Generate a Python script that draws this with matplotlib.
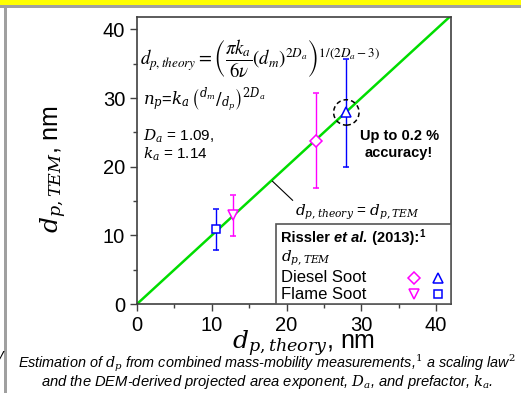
import numpy as np
import matplotlib
matplotlib.use('Agg')
import matplotlib.pyplot as plt
from matplotlib.patches import Rectangle, Ellipse

plt.rcParams['font.family'] = ['Liberation Sans', 'DejaVu Sans']
plt.rcParams['mathtext.fontset'] = 'dejavuserif'

# data (nm)
diesel_theory = [23.9, 28.0]
diesel_tem = [23.8, 27.9]
diesel_err_lo = [6.9, 8.0]
diesel_err_hi = [7.0, 7.8]
flame_theory = [12.9, 10.6]
flame_tem = [12.9, 10.9]
flame_err_lo = [3.0, 3.0]
flame_err_hi = [3.0, 3.0]
marker_colors = ['#ff00ff', '#0000ff']
diesel_markers = ['D', '^']
flame_markers = ['v', 's']
line_xy = [0, 42]
ticks = [0, 10, 20, 30, 40]

GREEN = '#00dd00'
SPINE = '#404040'

fig = plt.figure(figsize=(5.21, 3.93), dpi=100)

# slide decorations
fig.patches.append(Rectangle((0, 1 - 5 / 393), 1, 5 / 393, transform=fig.transFigure,
                             facecolor='#ffff00', edgecolor='none'))
fig.patches.append(Rectangle((0, 1 - 8 / 393), 1, 3 / 393, transform=fig.transFigure,
                             facecolor='#a0a0a0', edgecolor='none'))
fig.patches.append(Rectangle((4 / 521, 0), 3 / 521, 1 - 8 / 393, transform=fig.transFigure,
                             facecolor='#a0a0a0', edgecolor='none'))

ax = fig.add_axes([137 / 521, 1 - 304 / 393, 314 / 521, 287 / 393])
ax.set_xlim(0, 42)
ax.set_ylim(0, 41.8)

ax.plot(line_xy, line_xy, color=GREEN, lw=1.8, zorder=2)

for i in range(2):
    ax.errorbar(diesel_theory[i], diesel_tem[i],
                yerr=[[diesel_err_lo[i]], [diesel_err_hi[i]]],
                fmt=diesel_markers[i], mfc='white', mec=marker_colors[i],
                ecolor=marker_colors[i], ms=6 if i == 0 else 7, mew=1.1,
                elinewidth=1, capsize=2.5, capthick=1, zorder=3)
    ax.errorbar(flame_theory[i], flame_tem[i],
                yerr=[[flame_err_lo[i]], [flame_err_hi[i]]],
                fmt=flame_markers[i], mfc='white', mec=marker_colors[i],
                ecolor=marker_colors[i], ms=7 if i == 0 else 5.5, mew=1.1,
                elinewidth=1, capsize=2.5, capthick=1, zorder=3)

ax.add_patch(Ellipse((diesel_theory[1], diesel_tem[1]), 3.4, 3.7, fill=False,
                     ls=(0, (3, 2)), lw=1.1, edgecolor='black', zorder=4))

ax.set_xticks(ticks)
ax.set_yticks(ticks)
ax.set_xticks([5, 15, 25, 35], minor=True)
ax.set_yticks([5, 15, 25, 35], minor=True)
ax.tick_params(which='both', direction='out', colors=SPINE, labelcolor='black',
               labelsize=14.5, top=False, right=False)
ax.tick_params(which='major', length=5, width=1)
ax.tick_params(which='minor', length=3, width=1)
for s in ax.spines.values():
    s.set_color(SPINE)
    s.set_linewidth(1.2)

ax.set_xlabel(r'$d_{p,theory}$, nm', fontsize=18)
ax.xaxis.set_label_coords(0.53, -0.085)
ax.set_ylabel(r'$d_{p,TEM}$, nm', fontsize=18)
ax.yaxis.set_label_coords(-0.215, 0.47)

# equations
ax.text(0.01, 0.855,
        r'$d_{p,theory} = \left(\dfrac{\pi k_a}{6\nu}\left(d_m\right)^{2D_a}\right)^{1/\left(2D_a-3\right)}$',
        transform=ax.transAxes, fontsize=13.5, va='center', ha='left',
        math_fontfamily='stix')
ax.text(0.02, 0.71, r'$n_p$=$k_a\,\left({}^{d_m}/_{d_p}\right)^{2D_a}$',
        transform=ax.transAxes, fontsize=12, va='center', ha='left')
ax.text(0.02, 0.585, r'$D_a$ = 1.09,', transform=ax.transAxes, fontsize=11,
        va='center', ha='left')
ax.text(0.02, 0.52, r'$k_a$ = 1.14', transform=ax.transAxes, fontsize=11,
        va='center', ha='left')

ax.text(0.835, 0.555, 'Up to 0.2 %\naccuracy!', transform=ax.transAxes,
        fontsize=10.5, fontweight='bold', ha='center', va='center', linespacing=1.3)

ax.annotate(r'$d_{p,theory}$ = $d_{p,TEM}$', xy=(18.1, 17.9), xytext=(21.2, 13.3),
            fontsize=11, va='center', ha='left',
            arrowprops=dict(arrowstyle='-', color='black', lw=0.8,
                            shrinkA=0, shrinkB=0, relpos=(0, 1)))

# legend box
lx0 = (276 - 137) / 314
ly1 = (304 - 224) / 287
ax.add_patch(Rectangle((lx0, 0), 1 - lx0, ly1, transform=ax.transAxes,
                       facecolor='white', edgecolor='#555555', lw=1.2, zorder=5))

# title pieces: "Rissler " + bold italic "et al." + " (2013):" + superscript 1
renderer = fig.canvas.get_renderer()
pieces = [('Rissler ', 'normal', 0), ('et al.', 'italic', 0), (' (2013):', 'normal', 0),
          ('1', 'normal', 4)]
tx = 281
for txt, sty, rise in pieces:
    t = fig.text(tx / 521, 1 - (238 - rise) / 393, txt, fontsize=10.5 if rise == 0 else 7,
                 fontweight='bold', style=sty, ha='left', va='center', zorder=6)
    bb = t.get_window_extent(renderer)
    tx += bb.width

ax.text(lx0 + 0.017, (304 - 258) / 287, r'$d_{p,TEM}$', transform=ax.transAxes,
        fontsize=11, va='center', ha='left', zorder=6)
ax.text(lx0 + 0.017, (304 - 277) / 287, 'Diesel Soot', transform=ax.transAxes,
        fontsize=12, va='center', ha='left', zorder=6)
ax.text(lx0 + 0.017, (304 - 294.5) / 287, 'Flame Soot', transform=ax.transAxes,
        fontsize=12, va='center', ha='left', zorder=6)
col_x = [(414 - 137) / 314, (437.5 - 137) / 314]
row_y = [(304 - 278) / 287, (304 - 294) / 287]
for i in range(2):
    ax.plot(col_x[i], row_y[0], diesel_markers[i], mfc='white', mec=marker_colors[i],
            ms=6 if i == 0 else 7, mew=1.1, transform=ax.transAxes, zorder=7, clip_on=False)
    ax.plot(col_x[i], row_y[1], flame_markers[i], mfc='white', mec=marker_colors[i],
            ms=7 if i == 0 else 5.5, mew=1.1, transform=ax.transAxes, zorder=7, clip_on=False)

# caption
fig.text(267 / 521, 1 - 363 / 393,
         r'Estimation of $d_p$ from combined mass-mobility measurements,$^1$ a scaling law$^2$',
         fontsize=10.4, style='italic', ha='center', va='center')
fig.text(267 / 521, 1 - 382 / 393,
         r'and the DEM-derived projected area exponent, $D_a$, and prefactor, $k_a$.',
         fontsize=10.6, style='italic', ha='center', va='center')
fig.text(-3 / 521, 1 - 355 / 393, 'y', fontsize=10, style='italic', ha='left', va='center')

fig.savefig('out.png', dpi=100)
